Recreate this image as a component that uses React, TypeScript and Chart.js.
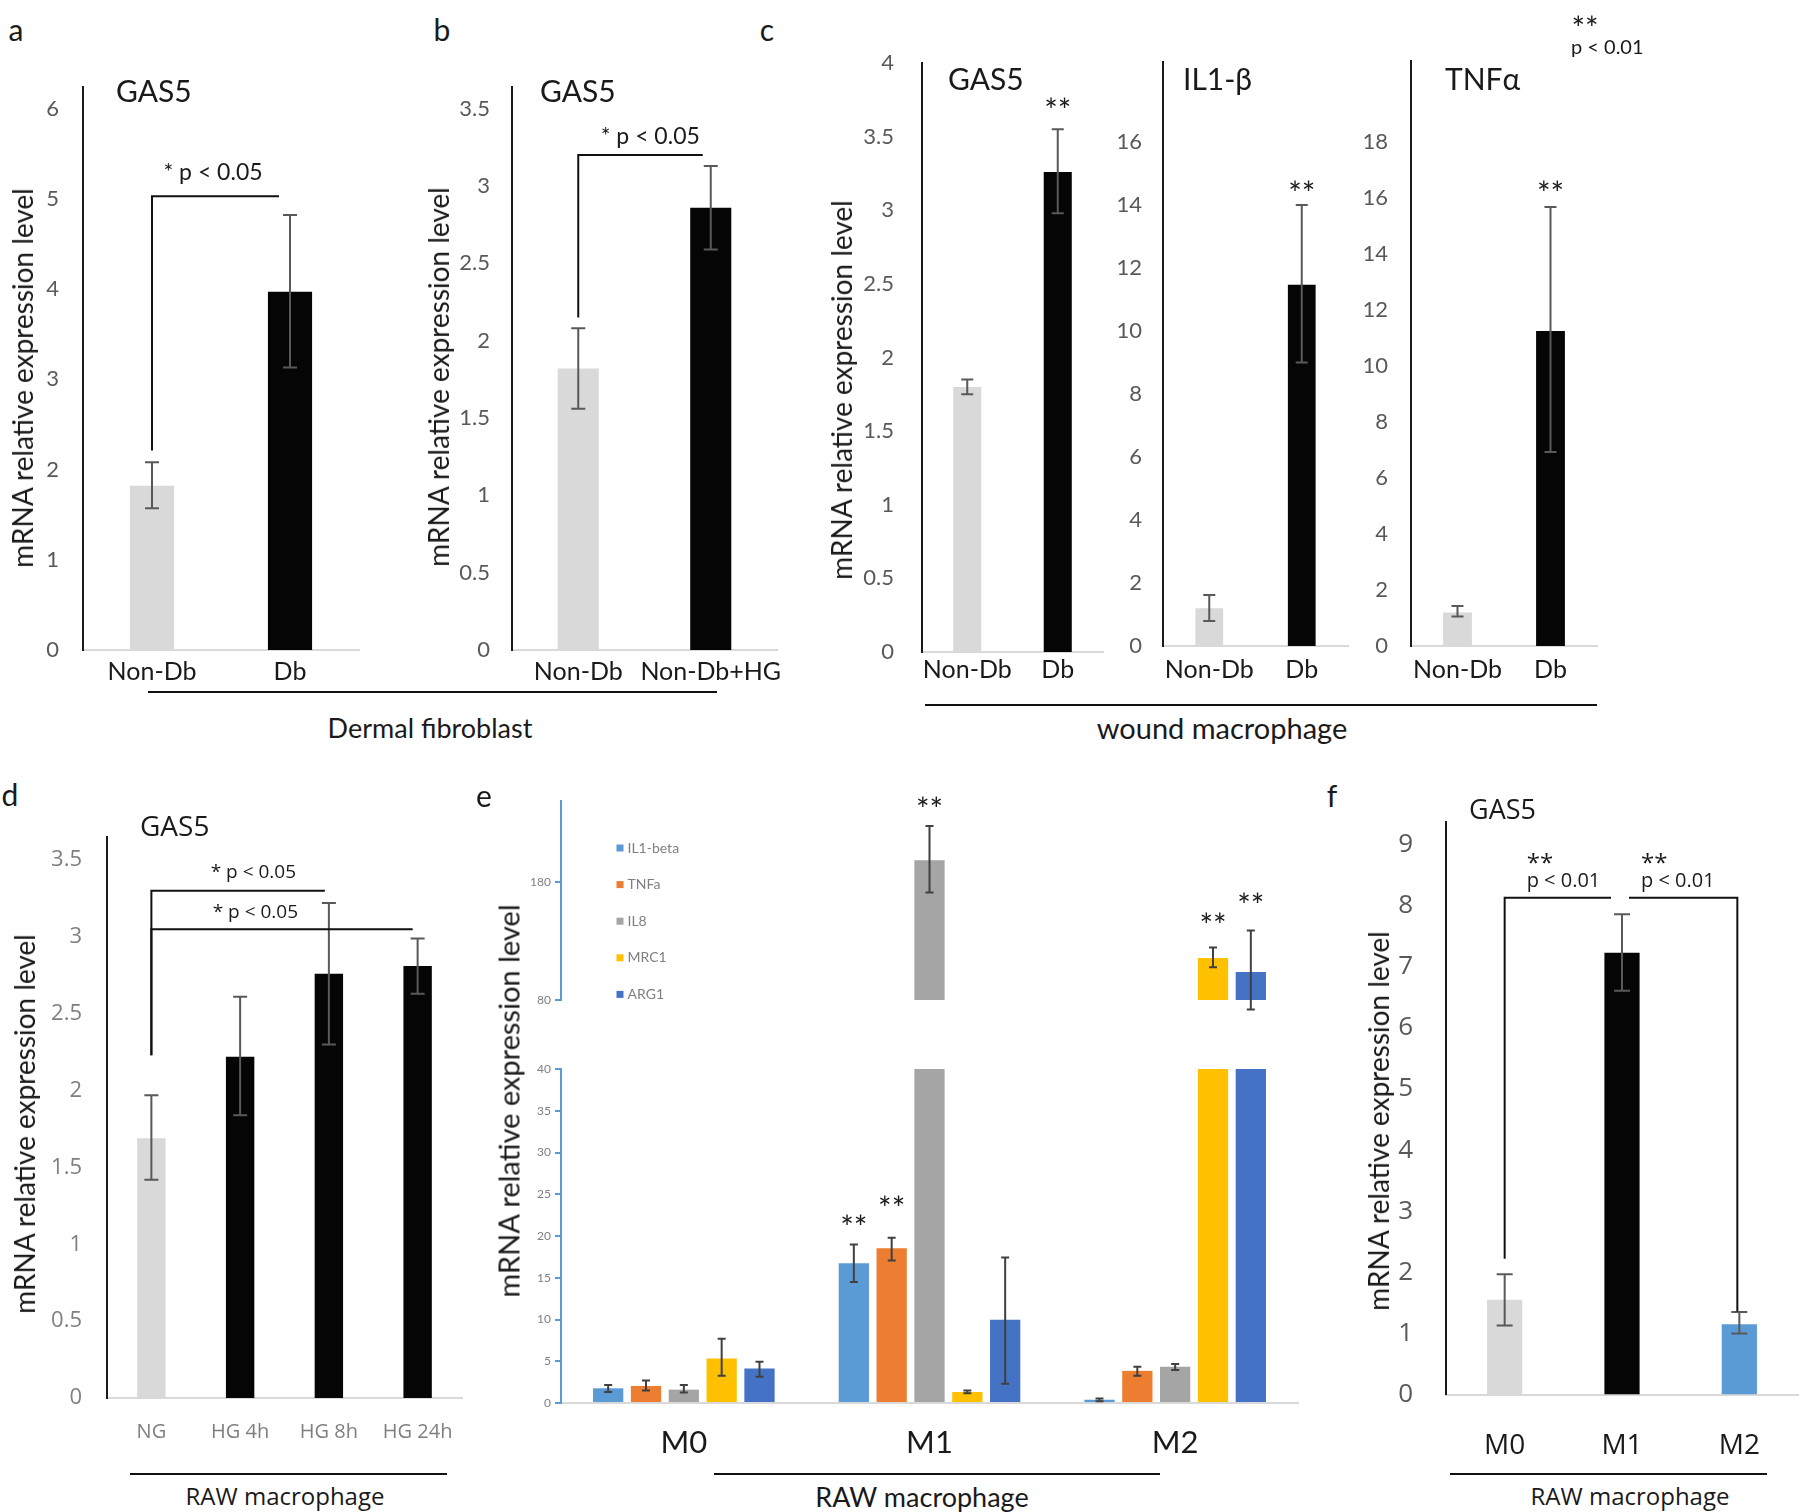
import React, { useEffect, useRef } from "react";
import { Chart, registerables } from "chart.js";

Chart.register(...registerables);

// ================= DATA =================
// a — Dermal fibroblast
const A_CATEGORIES = ["Non-Db", "Db"];
const A_VALUES = [1.82, 3.97];
const A_ERR_LOW = [1.57, 3.13];
const A_ERR_HIGH = [2.08, 4.82];
const A_Y_TICKS = [0, 1, 2, 3, 4, 5, 6];
const A_Y_MAX = 6.24;

// b — Dermal fibroblast, high glucose
const B_CATEGORIES = ["Non-Db", "Non-Db+HG"];
const B_VALUES = [1.82, 2.86];
const B_ERR_LOW = [1.56, 2.59];
const B_ERR_HIGH = [2.08, 3.13];
const B_Y_TICKS = [0, 0.5, 1, 1.5, 2, 2.5, 3, 3.5];
const B_Y_MAX = 3.64;

// c — wound macrophage
const C_CATEGORIES = ["Non-Db", "Db"];
const C_GAS5_VALUES = [1.8, 3.26];
const C_GAS5_ERR_LOW = [1.75, 2.98];
const C_GAS5_ERR_HIGH = [1.85, 3.55];
const C_GAS5_Y_TICKS = [0, 0.5, 1, 1.5, 2, 2.5, 3, 3.5, 4];
const C_GAS5_Y_MAX = 4;
const C_IL1B_VALUES = [1.2, 11.47];
const C_IL1B_ERR_LOW = [0.79, 9.0];
const C_IL1B_ERR_HIGH = [1.62, 14.0];
const C_IL1B_Y_TICKS = [0, 2, 4, 6, 8, 10, 12, 14, 16];
const C_IL1B_Y_MAX = 18.54;
const C_TNFA_VALUES = [1.2, 11.25];
const C_TNFA_ERR_LOW = [1.05, 6.93];
const C_TNFA_ERR_HIGH = [1.43, 15.68];
const C_TNFA_Y_TICKS = [0, 2, 4, 6, 8, 10, 12, 14, 16, 18];
const C_TNFA_Y_MAX = 20.9;

// d — RAW macrophage, high glucose time course
const D_CATEGORIES = ["NG", "HG 4h", "HG 8h", "HG 24h"];
const D_VALUES = [1.69, 2.22, 2.76, 2.81];
const D_ERR_LOW = [1.42, 1.84, 2.3, 2.63];
const D_ERR_HIGH = [1.97, 2.61, 3.22, 2.99];
const D_Y_TICKS = [0, 0.5, 1, 1.5, 2, 2.5, 3, 3.5];
const D_Y_MAX = 3.65;

// e — RAW macrophage polarisation markers (broken axis)
const E_CATEGORIES = ["M0", "M1", "M2"];
const E_SERIES = ["IL1-beta", "TNFa", "IL8", "MRC1", "ARG1"];
const E_IL1B_VALUES = [1.76, 16.73, 0.39];
const E_IL1B_ERR_LOW = [1.32, 14.5, 0.22];
const E_IL1B_ERR_HIGH = [2.15, 18.98, 0.55];
const E_TNFA_VALUES = [2.04, 18.54, 3.85];
const E_TNFA_ERR_LOW = [1.49, 17.06, 3.25];
const E_TNFA_ERR_HIGH = [2.7, 19.8, 4.35];
const E_IL8_VALUES = [1.6, 198.3, 4.35];
const E_IL8_ERR_LOW = [1.27, 171, 3.96];
const E_IL8_ERR_HIGH = [2.15, 227.5, 4.68];
const E_MRC1_VALUES = [5.34, 1.32, 115.6];
const E_MRC1_ERR_LOW = [3.25, 1.16, 107.7];
const E_MRC1_ERR_HIGH = [7.7, 1.49, 124.4];
const E_ARG1_VALUES = [4.13, 9.96, 103.8];
const E_ARG1_ERR_LOW = [3.14, 2.31, 71.9];
const E_ARG1_ERR_HIGH = [4.95, 17.44, 138.8];
const E_LOWER_TICKS = [0, 5, 10, 15, 20, 25, 30, 35, 40];
const E_LOWER_MAX = 40;
const E_UPPER_TICKS = [80, 180];
const E_UPPER_MIN = 80;
const E_UPPER_MAX = 248.6;

// f — RAW macrophage GAS5
const F_CATEGORIES = ["M0", "M1", "M2"];
const F_VALUES = [1.55, 7.23, 1.15];
const F_ERR_LOW = [1.13, 6.61, 1.0];
const F_ERR_HIGH = [1.97, 7.86, 1.35];
const F_Y_TICKS = [0, 1, 2, 3, 4, 5, 6, 7, 8, 9];
const F_Y_MAX = 9.37;

// ================= STYLE =================
const LATO = "Lato, 'Open Sans', sans-serif";
const OPEN = "'Open Sans', Lato, sans-serif";
const TXT = "#1a1a1a";
const TICK_GRAY = "#595959";
const LIGHT_GRAY_TXT = "#7f7f7f";
const AXIS_BLACK = "#1a1a1a";
const XAXIS_GRAY = "#d9d9d9";
const ERR_COLOR = "#595959";
const BAR_LIGHT = "#d9d9d9";
const BAR_DARK = "#050505";
const E_COLORS = ["#5b9bd5", "#ed7d31", "#a5a5a5", "#ffc000", "#4472c4"];
const E_AXIS_BLUE = "#5b9bd5";
const STAR_SIZE = 32;

const E_VALUES = [E_IL1B_VALUES, E_TNFA_VALUES, E_IL8_VALUES, E_MRC1_VALUES, E_ARG1_VALUES];
const E_LOWS = [E_IL1B_ERR_LOW, E_TNFA_ERR_LOW, E_IL8_ERR_LOW, E_MRC1_ERR_LOW, E_ARG1_ERR_LOW];
const E_HIGHS = [E_IL1B_ERR_HIGH, E_TNFA_ERR_HIGH, E_IL8_ERR_HIGH, E_MRC1_ERR_HIGH, E_ARG1_ERR_HIGH];

const pLabel = (text: string, dx: number, dy: number, size: number, family: string, align: CanvasTextAlign = "center") => ({
  text, dx, dy, size, family, align,
});

const SPECS: any[] = [
  // a
  {
    box: { l: 30, t: 60, r: 375, b: 700 },
    area: { l: 83, t: 87, r: 359, b: 650 },
    categories: A_CATEGORIES,
    series: [{ label: "GAS5", data: A_VALUES, lo: A_ERR_LOW, hi: A_ERR_HIGH, colors: [BAR_LIGHT, BAR_DARK] }],
    yMin: 0, yMax: A_Y_MAX, yTicks: A_Y_TICKS,
    yFont: { family: LATO, size: 22 }, yColor: TICK_GRAY, yPad: 24, yBorder: AXIS_BLACK,
    xShow: true, xFont: { family: LATO, size: 25 }, xColor: TXT, xPad: 7, xBorder: XAXIS_GRAY,
    catPct: 1, barPct: 0.32, cap: 7, errColor: ERR_COLOR,
    stars: [],
    brackets: [{ from: 0, fromY: 2.21, y: 5.03, to: 1, toDx: -11, labels: [pLabel("* p < 0.05", 61, -24, 23, LATO)] }],
  },
  // b
  {
    box: { l: 440, t: 60, r: 800, b: 700 },
    area: { l: 512, t: 87, r: 777, b: 650 },
    categories: B_CATEGORIES,
    series: [{ label: "GAS5", data: B_VALUES, lo: B_ERR_LOW, hi: B_ERR_HIGH, colors: [BAR_LIGHT, BAR_DARK] }],
    yMin: 0, yMax: B_Y_MAX, yTicks: B_Y_TICKS,
    yFont: { family: LATO, size: 22 }, yColor: TICK_GRAY, yPad: 22, yBorder: AXIS_BLACK,
    xShow: true, xFont: { family: LATO, size: 25 }, xColor: TXT, xPad: 7, xBorder: XAXIS_GRAY,
    catPct: 1, barPct: 0.31, cap: 7, errColor: ERR_COLOR,
    stars: [],
    brackets: [{ from: 0, fromY: 2.15, y: 3.2, to: 1, toDx: -8, labels: [pLabel("* p < 0.05", 72, -18, 23, LATO)] }],
  },
  // c GAS5
  {
    box: { l: 850, t: 40, r: 1110, b: 700 },
    area: { l: 922, t: 63, r: 1103, b: 652 },
    categories: C_CATEGORIES,
    series: [{ label: "GAS5", data: C_GAS5_VALUES, lo: C_GAS5_ERR_LOW, hi: C_GAS5_ERR_HIGH, colors: [BAR_LIGHT, BAR_DARK] }],
    yMin: 0, yMax: C_GAS5_Y_MAX, yTicks: C_GAS5_Y_TICKS,
    yFont: { family: LATO, size: 22 }, yColor: TICK_GRAY, yPad: 28, yBorder: AXIS_BLACK,
    xShow: true, xFont: { family: LATO, size: 25 }, xColor: TXT, xPad: 3, xBorder: XAXIS_GRAY,
    catPct: 1, barPct: 0.31, cap: 6, errColor: ERR_COLOR,
    stars: [{ ds: 0, idx: 1, dy: -27 }],
    brackets: [],
  },
  // c IL1-β
  {
    box: { l: 1105, t: 40, r: 1355, b: 700 },
    area: { l: 1163, t: 62, r: 1348, b: 646 },
    categories: C_CATEGORIES,
    series: [{ label: "IL1-β", data: C_IL1B_VALUES, lo: C_IL1B_ERR_LOW, hi: C_IL1B_ERR_HIGH, colors: [BAR_LIGHT, BAR_DARK] }],
    yMin: 0, yMax: C_IL1B_Y_MAX, yTicks: C_IL1B_Y_TICKS,
    yFont: { family: LATO, size: 22 }, yColor: TICK_GRAY, yPad: 21, yBorder: AXIS_BLACK,
    xShow: true, xFont: { family: LATO, size: 25 }, xColor: TXT, xPad: 9, xBorder: XAXIS_GRAY,
    catPct: 1, barPct: 0.3, cap: 6, errColor: ERR_COLOR,
    stars: [{ ds: 0, idx: 1, dy: -20 }],
    brackets: [],
  },
  // c TNFα
  {
    box: { l: 1355, t: 40, r: 1605, b: 700 },
    area: { l: 1411, t: 61, r: 1597, b: 646 },
    categories: C_CATEGORIES,
    series: [{ label: "TNFα", data: C_TNFA_VALUES, lo: C_TNFA_ERR_LOW, hi: C_TNFA_ERR_HIGH, colors: [BAR_LIGHT, BAR_DARK] }],
    yMin: 0, yMax: C_TNFA_Y_MAX, yTicks: C_TNFA_Y_TICKS,
    yFont: { family: LATO, size: 22 }, yColor: TICK_GRAY, yPad: 23, yBorder: AXIS_BLACK,
    xShow: true, xFont: { family: LATO, size: 25 }, xColor: TXT, xPad: 9, xBorder: XAXIS_GRAY,
    catPct: 1, barPct: 0.31, cap: 6, errColor: ERR_COLOR,
    stars: [{ ds: 0, idx: 1, dy: -22 }],
    brackets: [],
  },
  // d
  {
    box: { l: 40, t: 800, r: 480, b: 1470 },
    area: { l: 107, t: 837, r: 462, b: 1398 },
    categories: D_CATEGORIES,
    series: [{ label: "GAS5", data: D_VALUES, lo: D_ERR_LOW, hi: D_ERR_HIGH, colors: [BAR_LIGHT, BAR_DARK, BAR_DARK, BAR_DARK] }],
    yMin: 0, yMax: D_Y_MAX, yTicks: D_Y_TICKS,
    yFont: { family: OPEN, size: 22 }, yColor: LIGHT_GRAY_TXT, yPad: 25, yBorder: AXIS_BLACK,
    xShow: true, xFont: { family: OPEN, size: 20 }, xColor: LIGHT_GRAY_TXT, xPad: 22, xBorder: XAXIS_GRAY,
    catPct: 1, barPct: 0.32, cap: 7, errColor: ERR_COLOR,
    stars: [],
    brackets: [
      { from: 0, fromY: 2.23, y: 3.3, to: 2, toDx: -4, labels: [pLabel("* p < 0.05", 102, -18, 19, OPEN)] },
      { from: 0, fromY: 2.23, y: 3.05, to: 3, toDx: -5, labels: [pLabel("* p < 0.05", 104, -17, 19, OPEN)] },
    ],
  },
  // e upper segment
  {
    box: { l: 520, t: 780, r: 1310, b: 1015 },
    area: { l: 561, t: 801, r: 1298, b: 1000 },
    categories: E_CATEGORIES,
    series: E_SERIES.map((name, i) => ({
      label: name,
      data: E_VALUES[i].map((v) => (v > E_UPPER_MIN ? v : null)),
      lo: E_LOWS[i], hi: E_HIGHS[i], colors: [E_COLORS[i]],
    })),
    yMin: E_UPPER_MIN, yMax: E_UPPER_MAX, yTicks: E_UPPER_TICKS,
    yFont: { family: LATO, size: 12 }, yColor: LIGHT_GRAY_TXT, yPad: 4, yBorder: E_AXIS_BLUE, tickMarks: true,
    xShow: false, xFont: { family: LATO, size: 30 }, xColor: TXT, xPad: 21, xBorder: XAXIS_GRAY,
    catPct: 0.77, barPct: 0.8, cap: 4, errColor: "#404040",
    stars: [{ ds: 2, idx: 1, dy: -25 }, { ds: 3, idx: 2, dy: -31 }, { ds: 4, idx: 2, dy: -34 }],
    brackets: [],
    legend: { x: 620, y: 848, dy: 36.6, size: 7, font: `14px ${LATO}`, color: LIGHT_GRAY_TXT },
  },
  // e lower segment
  {
    box: { l: 520, t: 1040, r: 1310, b: 1470 },
    area: { l: 561, t: 1069, r: 1298, b: 1403 },
    categories: E_CATEGORIES,
    series: E_SERIES.map((name, i) => ({
      label: name, data: E_VALUES[i], lo: E_LOWS[i], hi: E_HIGHS[i], colors: [E_COLORS[i]],
    })),
    yMin: 0, yMax: E_LOWER_MAX, yTicks: E_LOWER_TICKS,
    yFont: { family: LATO, size: 12 }, yColor: LIGHT_GRAY_TXT, yPad: 4, yBorder: E_AXIS_BLUE, tickMarks: true,
    xShow: true, xFont: { family: LATO, size: 31 }, xColor: TXT, xPad: 21, xBorder: XAXIS_GRAY,
    catPct: 0.77, barPct: 0.8, cap: 4, errColor: "#404040",
    stars: [{ ds: 0, idx: 1, dy: -25 }, { ds: 1, idx: 1, dy: -38 }],
    brackets: [],
  },
  // f
  {
    box: { l: 1370, t: 780, r: 1800, b: 1470 },
    area: { l: 1446, t: 822, r: 1798, b: 1394.5 },
    categories: F_CATEGORIES,
    series: [{ label: "GAS5", data: F_VALUES, lo: F_ERR_LOW, hi: F_ERR_HIGH, colors: [BAR_LIGHT, BAR_DARK, E_COLORS[0]] }],
    yMin: 0, yMax: F_Y_MAX, yTicks: F_Y_TICKS,
    yFont: { family: OPEN, size: 26 }, yColor: TICK_GRAY, yPad: 33, yBorder: AXIS_BLACK,
    xShow: true, xFont: { family: OPEN, size: 28 }, xColor: TXT, xPad: 35, xBorder: XAXIS_GRAY,
    catPct: 1, barPct: 0.3, cap: 8, errColor: ERR_COLOR,
    stars: [],
    brackets: [
      { from: 0, fromY: 2.22, y: 8.13, to: 1, toDx: -11,
        labels: [pLabel("**", 22, -40, 24, OPEN, "left"), pLabel("p < 0.01", 22, -16, 20, OPEN, "left")] },
      { from: 1, fromDx: 7, y: 8.13, to: 2, toDx: -2, toY: 1.36,
        labels: [pLabel("**", 12, -40, 24, OPEN, "left"), pLabel("p < 0.01", 12, -16, 20, OPEN, "left")] },
    ],
  },
];

// ================= PLUGIN =================
function decorPlugin(spec: any) {
  return {
    id: "decor",
    afterDatasetsDraw(chart: any) {
      const ctx = chart.ctx as CanvasRenderingContext2D;
      const ys = chart.scales.y;
      const xs = chart.scales.x;
      ctx.save();
      // error bars
      spec.series.forEach((s: any, di: number) => {
        const meta = chart.getDatasetMeta(di);
        s.data.forEach((v: number | null, i: number) => {
          if (v == null || v > spec.yMax || v < spec.yMin) return;
          const el = meta.data[i];
          if (!el) return;
          const x = el.x;
          const y1 = ys.getPixelForValue(s.lo[i]);
          const y2 = ys.getPixelForValue(s.hi[i]);
          ctx.strokeStyle = spec.errColor;
          ctx.lineWidth = 2;
          ctx.beginPath();
          ctx.moveTo(x, y1);
          ctx.lineTo(x, y2);
          ctx.moveTo(x - spec.cap, y1);
          ctx.lineTo(x + spec.cap, y1);
          ctx.moveTo(x - spec.cap, y2);
          ctx.lineTo(x + spec.cap, y2);
          ctx.stroke();
        });
      });
      // significance stars above error bars
      (spec.stars || []).forEach((st: any) => {
        const s = spec.series[st.ds];
        const el = chart.getDatasetMeta(st.ds).data[st.idx];
        const y = ys.getPixelForValue(s.hi[st.idx]) + st.dy + STAR_SIZE * 0.3;
        ctx.font = `${STAR_SIZE}px ${LATO}`;
        ctx.fillStyle = TXT;
        ctx.textAlign = "center";
        ctx.textBaseline = "middle";
        ctx.fillText("**", el.x, y);
      });
      // brackets
      (spec.brackets || []).forEach((b: any) => {
        const x0 = xs.getPixelForValue(b.from) + (b.fromDx || 0);
        const x1 = xs.getPixelForValue(b.to) + (b.toDx || 0);
        const yl = ys.getPixelForValue(b.y);
        ctx.strokeStyle = "#111";
        ctx.lineWidth = 2;
        ctx.beginPath();
        if (b.fromY != null) {
          ctx.moveTo(x0, ys.getPixelForValue(b.fromY));
          ctx.lineTo(x0, yl);
        } else {
          ctx.moveTo(x0, yl);
        }
        ctx.lineTo(x1, yl);
        if (b.toY != null) ctx.lineTo(x1, ys.getPixelForValue(b.toY));
        ctx.stroke();
        b.labels.forEach((l: any) => {
          ctx.font = `${l.size}px ${l.family}`;
          ctx.fillStyle = TXT;
          ctx.textAlign = l.align;
          ctx.textBaseline = "middle";
          const shift = l.text === "**" ? l.size * 0.25 : 0;
          ctx.fillText(l.text, x0 + l.dx, yl + l.dy + shift);
        });
      });
      // legend (panel e)
      if (spec.legend) {
        const L = spec.legend;
        spec.series.forEach((s: any, i: number) => {
          const x = L.x - spec.box.l;
          const y = L.y + i * L.dy - spec.box.t;
          ctx.fillStyle = s.colors[0];
          ctx.fillRect(x - L.size / 2, y - L.size / 2, L.size, L.size);
          ctx.fillStyle = L.color;
          ctx.font = L.font;
          ctx.textAlign = "left";
          ctx.textBaseline = "middle";
          ctx.fillText(s.label, x + L.size / 2 + 4, y);
        });
      }
      ctx.restore();
    },
  };
}

// ================= CHART PANEL =================
function BarPanel({ spec }: { spec: any }) {
  const ref = useRef<HTMLCanvasElement | null>(null);
  const { box, area } = spec;
  const w = box.r - box.l;
  const h = box.b - box.t;
  useEffect(() => {
    const canvas = ref.current;
    if (!canvas) return;
    const chart = new Chart(canvas, {
      type: "bar",
      data: {
        labels: spec.categories,
        datasets: spec.series.map((s: any) => ({
          label: s.label,
          data: s.data,
          backgroundColor: s.colors.length === 1 ? s.colors[0] : s.colors,
          borderWidth: 0,
          categoryPercentage: spec.catPct,
          barPercentage: spec.barPct,
          clip: 0,
        })),
      },
      options: {
        responsive: false,
        animation: false,
        devicePixelRatio: 1,
        events: [],
        layout: { padding: { left: 0, top: area.t - box.t, right: box.r - area.r, bottom: 0 } },
        plugins: { legend: { display: false }, tooltip: { enabled: false }, title: { display: false } },
        scales: {
          x: {
            grid: { display: false, drawTicks: false },
            border: { display: spec.xShow, color: spec.xBorder, width: 2 },
            ticks: {
              display: spec.xShow,
              font: spec.xFont,
              color: spec.xColor,
              padding: spec.xPad,
              maxRotation: 0,
              minRotation: 0,
              autoSkip: false,
            },
            afterFit: (s: any) => {
              s.height = box.b - area.b;
              s.paddingLeft = 0;
              s.paddingRight = 0;
            },
          },
          y: {
            min: spec.yMin,
            max: spec.yMax,
            grid: spec.tickMarks
              ? { display: true, drawOnChartArea: false, drawTicks: true, tickLength: 6, color: spec.yBorder, lineWidth: 2 }
              : { display: false, drawTicks: false },
            border: { display: true, color: spec.yBorder, width: 2 },
            ticks: {
              font: spec.yFont,
              color: spec.yColor,
              padding: spec.yPad,
              autoSkip: false,
              callback: (v: any) => String(v),
            },
            afterBuildTicks: (s: any) => {
              s.ticks = spec.yTicks.map((v: number) => ({ value: v }));
            },
            afterFit: (s: any) => {
              s.width = area.l - box.l;
              s.paddingTop = 0;
              s.paddingBottom = 0;
            },
          },
        },
      } as any,
      plugins: [decorPlugin(spec)],
    });
    return () => chart.destroy();
  }, []);
  return (
    <canvas
      ref={ref}
      width={w}
      height={h}
      style={{ position: "absolute", left: box.l, top: box.t, width: w, height: h }}
    />
  );
}

// ================= PAGE TEXT =================
function T(props: { x: number; y: number; text: string; size: number; font?: string; color?: string; anchor?: "left" | "center"; rotate?: boolean }) {
  const { x, y, text, size, font = LATO, color = TXT, anchor = "center", rotate = false } = props;
  const tx = anchor === "left" ? "0" : "-50%";
  return (
    <div
      style={{
        position: "absolute",
        left: x,
        top: y,
        transform: `translate(${tx}, -50%)${rotate ? " rotate(-90deg)" : ""}`,
        fontFamily: font,
        fontSize: size,
        color,
        whiteSpace: "nowrap",
        lineHeight: 1,
      }}
    >
      {text}
    </div>
  );
}

function HLine({ x1, x2, y }: { x1: number; x2: number; y: number }) {
  return <div style={{ position: "absolute", left: x1, top: y - 1, width: x2 - x1, height: 2, background: "#111" }} />;
}

const Y_TITLE = "mRNA relative expression level";

export default function App() {
  return (
    <div style={{ position: "absolute", left: 0, top: 0, width: 1800, height: 1512, background: "#fff", overflow: "hidden" }}>
      {SPECS.map((s, i) => (
        <BarPanel key={i} spec={s} />
      ))}

      {/* panel letters */}
      <T x={16} y={29} text="a" size={30} />
      <T x={442} y={29} text="b" size={30} />
      <T x={767} y={29} text="c" size={30} />
      <T x={10} y={794} text="d" size={30} />
      <T x={484} y={795} text="e" size={30} />
      <T x={1332} y={795} text="f" size={30} />

      {/* titles */}
      <T x={116} y={90} text="GAS5" size={30} anchor="left" />
      <T x={540} y={90} text="GAS5" size={30} anchor="left" />
      <T x={948} y={78} text="GAS5" size={30} anchor="left" />
      <T x={1183} y={78} text="IL1-β" size={30} anchor="left" />
      <T x={1445} y={78} text="TNFα" size={30} anchor="left" />
      <T x={140} y={825} text="GAS5" size={28} font={OPEN} anchor="left" />
      <T x={1469} y={808} text="GAS5" size={27} font={OPEN} anchor="left" />

      {/* y-axis titles */}
      <T x={22} y={378} text={Y_TITLE} size={28} rotate />
      <T x={438} y={377} text={Y_TITLE} size={28} rotate />
      <T x={841} y={390} text={Y_TITLE} size={28} rotate />
      <T x={24} y={1124} text={Y_TITLE} size={28} rotate />
      <T x={508} y={1101} text={Y_TITLE} size={29} rotate />
      <T x={1378} y={1121} text={Y_TITLE} size={28} rotate />

      {/* significance key */}
      <T x={1585} y={28} text="**" size={32} />
      <T x={1571} y={46} text="p < 0.01" size={20} anchor="left" />

      {/* group lines and labels */}
      <HLine x1={148} x2={717} y={692} />
      <T x={430} y={727} text="Dermal fibroblast" size={27} />
      <HLine x1={925} x2={1597} y={705} />
      <T x={1222} y={727} text="wound macrophage" size={29} />
      <HLine x1={130} x2={447} y={1474} />
      <T x={285} y={1496} text="RAW macrophage" size={24} font={OPEN} />
      <HLine x1={714} x2={1160} y={1474} />
      <T x={922} y={1496} text="RAW macrophage" size={27} />
      <HLine x1={1450} x2={1767} y={1474} />
      <T x={1630} y={1496} text="RAW macrophage" size={24} font={OPEN} />
    </div>
  );
}
